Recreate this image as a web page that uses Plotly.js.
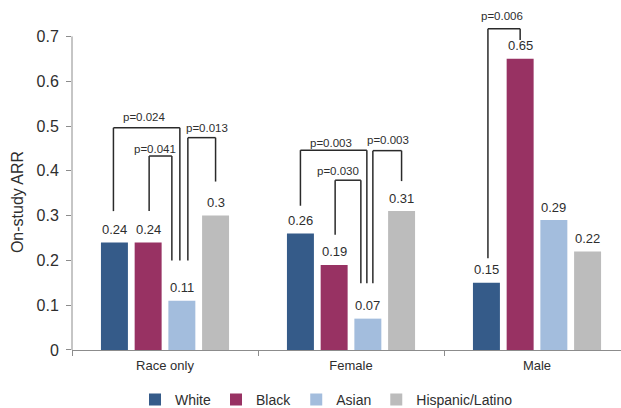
<!DOCTYPE html>
<html>
<head>
<meta charset="utf-8">
<script src="https://cdn.plot.ly/plotly-3.0.1.min.js"></script>
<style>html,body{margin:0;padding:0;background:#fff;}#chart{width:621px;height:408px;}</style>
</head>
<body>
<div id="chart"></div>
<script>
// ---- data ----
const categories = ['Race only', 'Female', 'Male'];
const seriesNames = ['White', 'Black', 'Asian', 'Hispanic/Latino'];
const white = [0.24, 0.26, 0.15];
const black = [0.24, 0.19, 0.65];
const asian = [0.11, 0.07, 0.29];
const hispanic = [0.30, 0.31, 0.22];
const yTicks = [0, 0.1, 0.2, 0.3, 0.4, 0.5, 0.6, 0.7];
const yTickText = ['0', '0.1', '0.2', '0.3', '0.4', '0.5', '0.6', '0.7'];

// pairwise comparisons (group index, left series, right series)
const cmpGroup = [0, 0, 0, 1, 1, 1, 2];
const cmpLeft  = [0, 1, 2, 0, 1, 2, 0];
const cmpRight = [2, 2, 3, 2, 2, 3, 1];
const pText = ['p=0.024', 'p=0.041', 'p=0.013', 'p=0.003', 'p=0.030', 'p=0.003', 'p=0.006'];
const bracketTop   = [0.496, 0.433, 0.474, 0.446, 0.379, 0.445, 0.717];
const leftLegEnd   = [0.31, 0.31, 0.20, 0.322, 0.257, 0.149, 0.205];
const rightLegEnd  = [0.20, 0.20, 0.376, 0.149, 0.149, 0.377, 0.692];
const pLabelY      = [0.52, 0.449, 0.496, 0.463, 0.40, 0.469, 0.746];

// ---- styling / layout geometry ----
const colors = ['#355B89', '#983263', '#A3BDDD', '#BCBCBC'];
const W = 621, H = 408, M = {l: 72, r: 0, t: 14, b: 18, autoexpand: false};
const xRange = [-0.5, 2.4516];
const yRange = [-0.0893, 0.75];
const bargap = 0.275, bargroupgap = 0.2;
const pxPerCat = (W - M.l - M.r) / (xRange[1] - xRange[0]);
const slot = (1 - bargap) / seriesNames.length;
const legDxLeft  = [-1, 1, 6, 0, 1, 5, 1.5];   // small pixel nudges of bracket legs
const legDxRight = [-2, -10, 0, -1, -7, 0, 0];
const pLabelDx   = [-3, -6, 5, -3, -10, 1, -2];

const values = [white, black, asian, hispanic];
const barX = (g, s) => g + (s - (seriesNames.length - 1) / 2) * slot;

const traces = values.map((v, s) => ({
  type: 'bar',
  name: seriesNames[s],
  x: categories,
  y: v,
  base: 0,
  marker: {color: colors[s], line: {width: 0}},
  hoverinfo: 'x+y+name'
}));

const annotations = [];
const shapes = [];
const textColor = '#2e2e2e';
const fam = 'Liberation Sans, Arial, sans-serif';

// value labels
values.forEach((v, s) => {
  v.forEach((val, g) => {
    annotations.push({
      x: barX(g, s), y: val, xref: 'x', yref: 'y',
      text: String(val), showarrow: false, yanchor: 'middle', yshift: 13,
      font: {family: fam, size: 13, color: textColor}
    });
  });
});

// significance brackets
const bracketLine = {color: '#2a2a2a', width: 1.5};
cmpGroup.forEach((g, i) => {
  const xl = barX(g, cmpLeft[i]) + legDxLeft[i] / pxPerCat;
  const xr = barX(g, cmpRight[i]) + legDxRight[i] / pxPerCat;
  shapes.push({type: 'line', xref: 'x', yref: 'y', x0: xl, x1: xl, y0: leftLegEnd[i], y1: bracketTop[i], line: bracketLine});
  shapes.push({type: 'line', xref: 'x', yref: 'y', x0: xl, x1: xr, y0: bracketTop[i], y1: bracketTop[i], line: bracketLine});
  shapes.push({type: 'line', xref: 'x', yref: 'y', x0: xr, x1: xr, y0: bracketTop[i], y1: rightLegEnd[i], line: bracketLine});
  annotations.push({
    x: (xl + xr) / 2 + pLabelDx[i] / pxPerCat, y: pLabelY[i], xref: 'x', yref: 'y',
    text: pText[i], showarrow: false, yanchor: 'middle',
    font: {family: fam, size: 11.5, color: textColor}
  });
});

// y axis line only from 0 up to the last tick
shapes.push({type: 'line', xref: 'paper', yref: 'y', x0: 0, x1: 0, y0: 0, y1: yTicks[yTicks.length - 1],
  line: {color: '#8c8c8c', width: 1}, layer: 'above'});

const layout = {
  width: W, height: H,
  margin: M,
  paper_bgcolor: '#ffffff', plot_bgcolor: '#ffffff',
  font: {family: fam, color: textColor},
  barmode: 'group', bargap: bargap, bargroupgap: bargroupgap,
  showlegend: true,
  legend: {
    orientation: 'h', xref: 'container', x: 0.2174, xanchor: 'left',
    yref: 'container', y: 0.02, yanchor: 'middle',
    traceorder: 'normal',
    font: {size: 14, color: textColor}, bgcolor: 'rgba(0,0,0,0)'
  },
  xaxis: {
    type: 'category', range: xRange, fixedrange: true,
    anchor: 'free', position: -yRange[0] / (yRange[1] - yRange[0]),
    showline: true, linecolor: '#8c8c8c', linewidth: 1,
    ticks: 'outside', tickson: 'boundaries', ticklen: 5, tickcolor: '#8c8c8c',
    ticklabelstandoff: 3,
    showgrid: false, zeroline: false,
    tickfont: {size: 13, color: textColor}
  },
  yaxis: {
    range: yRange, fixedrange: true,
    tickmode: 'array', tickvals: yTicks, ticktext: yTickText,
    ticks: 'outside', ticklen: 5, tickcolor: '#8c8c8c', ticklabelstandoff: 4,
    showline: false, showgrid: false, zeroline: false,
    tickfont: {size: 16, color: textColor},
    title: {text: 'On-study ARR', font: {size: 16, color: textColor}, standoff: 8}
  },
  shapes: shapes,
  annotations: annotations
};

Plotly.newPlot('chart', traces, layout, {displayModeBar: false, staticPlot: true});
</script>
</body>
</html>
